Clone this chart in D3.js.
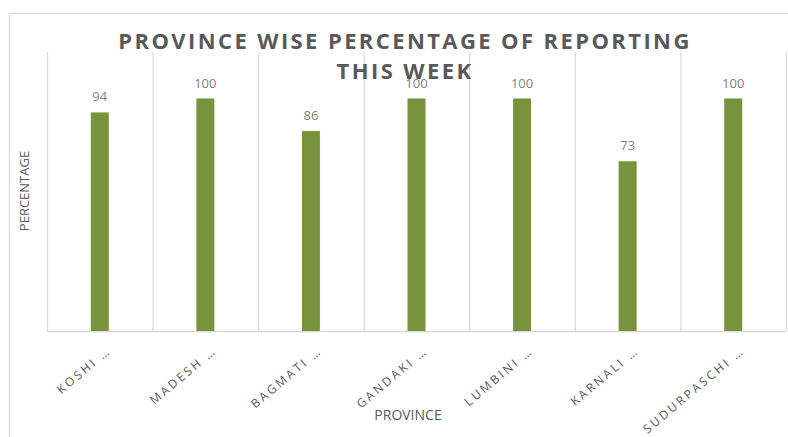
<!DOCTYPE html>
<html>
<head>
<meta charset="utf-8">
<script src="https://cdn.jsdelivr.net/npm/d3@7"></script>
<style>
    body { margin: 0; background: #fff; }
    svg { display: block; }
</style>
</head>
<body>
<div id="chart"></div>
<script>
// ------------------------------------------------- Data -------------------------------------------------
const provinces = ["KOSHI …", "MADESH …", "BAGMATI …", "GANDAKI …", "LUMBINI …", "KARNALI …", "SUDURPASCHI …"];
const percentages = [94, 100, 86, 100, 100, 73, 100];
const yDomain = [0, 120];
const titleLines = ["PROVINCE WISE PERCENTAGE OF REPORTING", "THIS WEEK"];

// ------------------------------------------------- Layout -------------------------------------------------
const width = 788, height = 437;
const plot = { left: 47, right: 786, top: 52, bottom: 331 };
const grey = "#595959";

const svg = d3.select("#chart").append("svg")
    .attr("width", width)
    .attr("height", height);

// chart border (cut off at right / bottom like the screenshot)
svg.append("rect")
    .attr("x", 9.5).attr("y", 13.5)
    .attr("width", 790).attr("height", 440)
    .attr("fill", "#fff")
    .attr("stroke", "#d9d9d9")
    .attr("stroke-width", 1.2);

const x = d3.scaleBand()
    .domain(provinces)
    .range([plot.left, plot.right])
    .paddingInner(0).paddingOuter(0);

const y = d3.scaleLinear()
    .domain(yDomain)
    .range([plot.bottom, plot.top]);

// vertical gridlines between categories
const bounds = provinces.map(p => x(p)).concat([plot.right]);
svg.append("g").selectAll("line")
    .data(bounds)
    .join("line")
    .attr("x1", d => d + 0.5).attr("x2", d => d + 0.5)
    .attr("y1", plot.top).attr("y2", plot.bottom)
    .attr("stroke", "#d9d9d9")
    .attr("stroke-width", 1.2);

// baseline
svg.append("line")
    .attr("x1", plot.left).attr("x2", plot.right)
    .attr("y1", y(0) + 0.5).attr("y2", y(0) + 0.5)
    .attr("stroke", "#d9d9d9")
    .attr("stroke-width", 1.5);

// bars
const barW = 18;
svg.append("g").selectAll("rect")
    .data(percentages)
    .join("rect")
    .attr("x", (d, i) => x(provinces[i]) + x.bandwidth() / 2 - barW / 2)
    .attr("y", d => y(d))
    .attr("width", barW)
    .attr("height", d => y(0) - y(d))
    .attr("fill", "#77933c");

// data labels
svg.append("g").selectAll("text")
    .data(percentages)
    .join("text")
    .attr("x", (d, i) => x(provinces[i]) + x.bandwidth() / 2)
    .attr("y", d => y(d) - 11)
    .attr("text-anchor", "middle")
    .style("font-family", "'Open Sans', sans-serif")
    .style("font-size", "13px")
    .style("fill", "#7f7f7f")
    .text(d => d);

// x tick labels (rotated)
svg.append("g").selectAll("text")
    .data(provinces)
    .join("text")
    .attr("transform", d => `translate(${x(d) + x.bandwidth() / 2 + 12},${352}) rotate(-40)`)
    .attr("text-anchor", "end")
    .style("font-family", "'Open Sans', sans-serif")
    .style("font-size", "12px")
    .style("letter-spacing", "2.6px")
    .style("fill", grey)
    .text(d => d);

// title
svg.append("g").selectAll("text")
    .data(titleLines)
    .join("text")
    .attr("x", 405)
    .attr("y", (d, i) => 49 + i * 30)
    .attr("text-anchor", "middle")
    .style("font-family", "'Open Sans', sans-serif")
    .style("font-size", "22px")
    .style("font-weight", "bold")
    .style("letter-spacing", "2.4px")
    .style("fill", grey)
    .text(d => d);

// axis titles
svg.append("text")
    .attr("transform", "translate(29,191) rotate(-90)")
    .attr("text-anchor", "middle")
    .style("font-family", "'Open Sans', sans-serif")
    .style("font-size", "13px")
    .style("fill", grey)
    .text("PERCENTAGE");

svg.append("text")
    .attr("x", 408)
    .attr("y", 420)
    .attr("text-anchor", "middle")
    .style("font-family", "'Open Sans', sans-serif")
    .style("font-size", "14px")
    .style("fill", grey)
    .text("PROVINCE");
</script>
</body>
</html>
